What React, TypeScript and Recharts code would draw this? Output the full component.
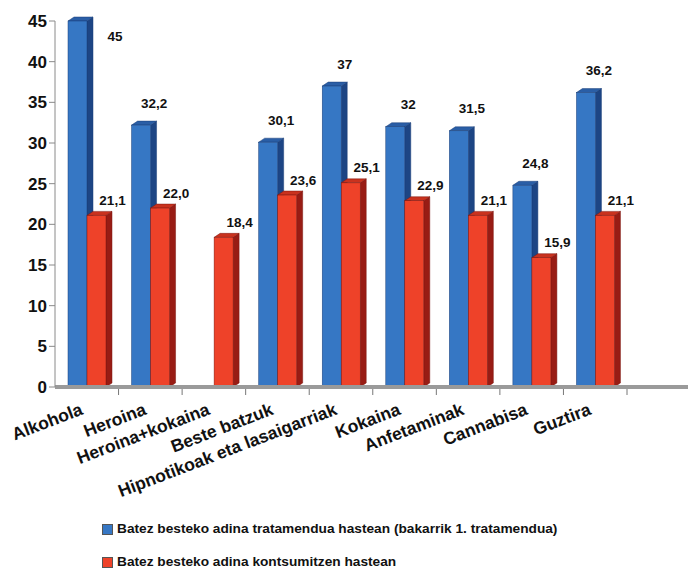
import { BarChart, Bar, XAxis, YAxis } from "recharts";

const categories = [
  "Alkohola",
  "Heroina",
  "Heroina+kokaina",
  "Beste batzuk",
  "Hipnotikoak eta lasaigarriak",
  "Kokaina",
  "Anfetaminak",
  "Cannabisa",
  "Guztira",
];
const treatmentAge = [45, 32.2, null, 30.1, 37, 32, 31.5, 24.8, 36.2];
const consumptionAge = [21.1, 22.0, 18.4, 23.6, 25.1, 22.9, 21.1, 15.9, 21.1];
const yTicks = [0, 5, 10, 15, 20, 25, 30, 35, 40, 45];
const seriesNames = [
  "Batez besteko adina tratamendua hastean (bakarrik 1. tratamendua)",
  "Batez besteko adina kontsumitzen hastean",
];

const data = categories.map((name, i) => ({
  name,
  treatment: treatmentAge[i],
  consumption: consumptionAge[i],
}));

const W = 688;
const H = 500;
const TOP = 21;
const LEFT = 55;
const X_AXIS_H = 113;
const PAD_RIGHT = 61;
const BAND = (W - LEFT - PAD_RIGHT) / categories.length;
const DEPTH_X = 6;
const DEPTH_Y = 4;
const FONT = "'Liberation Sans', Arial, sans-serif";

const BLUE = { front: "#3677c4", top: "#2a5ea6", side: "#1d4584", edge: "#1a3f78" };
const RED = { front: "#ee4229", top: "#c9321e", side: "#981c14", edge: "#7d1710" };

type Palette = typeof BLUE;

// front face + top + right side, to get the extruded look
function Box3D(props: any) {
  const { x, y, width, height, palette } = props;
  if (height == null || height <= 0) return null;
  const w = width;
  const d = DEPTH_X;
  const e = DEPTH_Y;
  const p: Palette = palette;
  return (
    <g>
      <polygon
        points={`${x + w},${y} ${x + w + d},${y - e} ${x + w + d},${y + height - e} ${x + w},${y + height}`}
        fill={p.side}
        stroke={p.edge}
        strokeWidth={0.5}
      />
      <polygon
        points={`${x},${y} ${x + d},${y - e} ${x + w + d},${y - e} ${x + w},${y}`}
        fill={p.top}
        stroke={p.edge}
        strokeWidth={0.5}
      />
      <rect x={x} y={y} width={w} height={height} fill={p.front} stroke={p.edge} strokeWidth={0.5} />
    </g>
  );
}

function ValueLabel(props: any) {
  const { x, y, width, value, kind } = props;
  if (value == null) return null;
  const text =
    kind === "red" ? Number(value).toFixed(1).replace(".", ",") : String(value).replace(".", ",");
  let cx = x + width / 2 + (kind === "red" ? 16 : 13);
  let ty = y - (kind === "red" ? 15 : 22);
  if (ty < TOP + 4) {
    // no room above the plot: put it beside the bar
    cx = x + width + DEPTH_X + 22;
    ty = y + 15;
  }
  return (
    <text
      x={cx}
      y={ty}
      textAnchor="middle"
      dominantBaseline="central"
      fontFamily={FONT}
      fontWeight="bold"
      fontSize={13.5}
      fill="#111"
    >
      {text}
    </text>
  );
}

function CategoryTick(props: any) {
  const { x, payload } = props;
  const axisY = H - X_AXIS_H;
  const tx = x - 3;
  const ty = axisY + 27;
  return (
    <g>
      <line x1={x + BAND / 2} y1={axisY + 2} x2={x + BAND / 2} y2={axisY + 8} stroke="#777" strokeWidth={1} />
      <text
        x={tx}
        y={ty}
        textAnchor="end"
        transform={`rotate(-21, ${tx}, ${ty})`}
        fontFamily={FONT}
        fontWeight="bold"
        fontSize={17.5}
        fill="#111"
      >
        {payload.value}
      </text>
    </g>
  );
}

function LegendBlock() {
  const colors = [BLUE.front, RED.front];
  return (
    <div style={{ position: "absolute", left: 102, top: 522, fontFamily: FONT, fontWeight: "bold", fontSize: 13.7, lineHeight: "14px", color: "#111" }}>
      {seriesNames.map((n, i) => (
        <div key={n} style={{ display: "flex", alignItems: "center", height: 14, marginBottom: i === 0 ? 19 : 0 }}>
          <span style={{ display: "inline-block", width: 9, height: 9, background: colors[i], marginRight: 4, border: "0.5px solid #555" }} />
          <span>{n}</span>
        </div>
      ))}
    </div>
  );
}

export default function App() {
  return (
    <div style={{ position: "absolute", left: 0, top: 0, width: W, height: 568, background: "#fff" }}>
      <BarChart
        width={W}
        height={H}
        data={data}
        margin={{ top: TOP, right: 0, bottom: 0, left: 0 }}
        barCategoryGap={13}
        barGap={0}
      >
        <XAxis
          dataKey="name"
          interval={0}
          height={X_AXIS_H}
          padding={{ left: 0, right: PAD_RIGHT }}
          axisLine={{ stroke: "#9a9a9a", strokeWidth: 4 }}
          tickLine={false}
          tick={<CategoryTick />}
        />
        <YAxis
          width={LEFT}
          domain={[0, 45]}
          ticks={yTicks}
          interval={0}
          tickSize={6}
          tickMargin={2}
          axisLine={{ stroke: "#8a8a8a" }}
          tickLine={{ stroke: "#8a8a8a" }}
          tick={{ fontFamily: FONT, fontWeight: "bold", fontSize: 17, fill: "#111" }}
        />
        <Bar
          dataKey="treatment"
          name={seriesNames[0]}
          fill={BLUE.front}
          isAnimationActive={false}
          shape={(p: any) => <Box3D {...p} palette={BLUE} />}
          label={(p: any) => <ValueLabel {...p} kind="blue" />}
        />
        <Bar
          dataKey="consumption"
          name={seriesNames[1]}
          fill={RED.front}
          isAnimationActive={false}
          shape={(p: any) => <Box3D {...p} palette={RED} />}
          label={(p: any) => <ValueLabel {...p} kind="red" />}
        />
      </BarChart>
      <LegendBlock />
    </div>
  );
}
